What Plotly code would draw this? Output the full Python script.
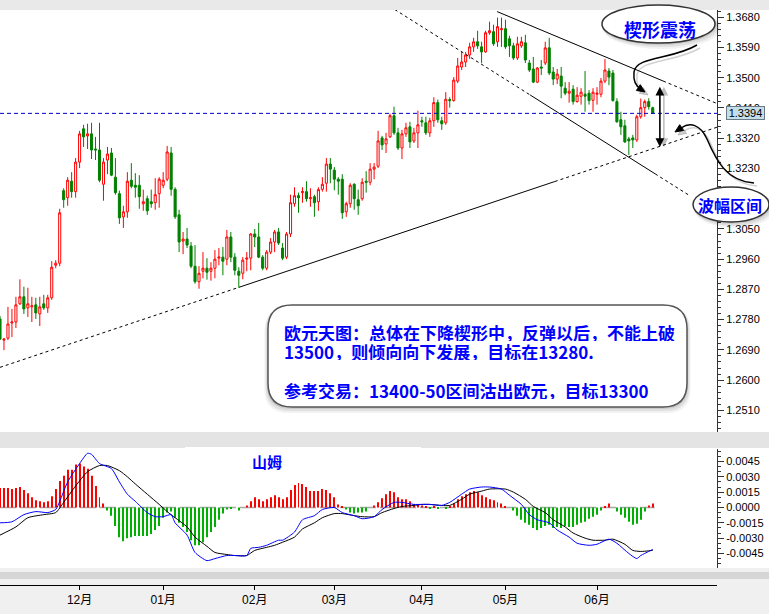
import plotly.graph_objects as go

# ---------------- daily EUR/USD candles ----------------
opens = [1.2782, 1.2719, 1.2725, 1.2770, 1.2773, 1.2827, 1.2848, 1.2815, 1.2818, 1.2824,
         1.2797, 1.2827, 1.2815, 1.2845, 1.2942, 1.2948, 1.3164, 1.3143, 1.3192, 1.3161,
         1.3249, 1.3348, 1.3327, 1.3333, 1.3288, 1.3285, 1.3183, 1.3255, 1.3276, 1.3204,
         1.3155, 1.3086, 1.3101, 1.3195, 1.3180, 1.3180, 1.3125, 1.3140, 1.3131, 1.3128,
         1.3155, 1.3180, 1.3198, 1.3276, 1.3168, 1.3092, 1.3014, 1.3020, 1.2999, 1.2939,
         1.2893, 1.2924, 1.2933, 1.2924, 1.2933, 1.2963, 1.2966, 1.2960, 1.3026, 1.2966,
         1.2924, 1.2918, 1.2960, 1.2963, 1.3035, 1.3026, 1.2966, 1.2933, 1.2981, 1.3011,
         1.3041, 1.2993, 1.2966, 1.3035, 1.3125, 1.3149, 1.3158, 1.3161, 1.3140, 1.3146,
         1.3131, 1.3168, 1.3186, 1.3243, 1.3225, 1.3198, 1.3198, 1.3101, 1.3125, 1.3183,
         1.3137, 1.3140, 1.3192, 1.3189, 1.3228, 1.3237, 1.3321, 1.3303, 1.3324, 1.3387,
         1.3336, 1.3291, 1.3333, 1.3354, 1.3312, 1.3336, 1.3372, 1.3366, 1.3336, 1.3372,
         1.3426, 1.3372, 1.3366, 1.3435, 1.3432, 1.3490, 1.3532, 1.3547, 1.3568, 1.3592,
         1.3607, 1.3592, 1.3577, 1.3634, 1.3637, 1.3607, 1.3643, 1.3646, 1.3616, 1.3595,
         1.3559, 1.3595, 1.3604, 1.3544, 1.3526, 1.3487, 1.3532, 1.3544, 1.3589, 1.3517,
         1.3496, 1.3505, 1.3469, 1.3454, 1.3466, 1.3429, 1.3445, 1.3451, 1.3454, 1.3433,
         1.3451, 1.3451, 1.3490, 1.3520, 1.3514, 1.3429, 1.3375, 1.3357, 1.3318, 1.3321,
         1.3315, 1.3384, 1.3411, 1.3429, 1.3411]

highs = [1.2791, 1.2725, 1.2818, 1.2812, 1.2848, 1.2900, 1.2878, 1.2875, 1.2848, 1.2845,
         1.2848, 1.2854, 1.2854, 1.2954, 1.2957, 1.3110, 1.3171, 1.3204, 1.3219, 1.3261,
         1.3342, 1.3360, 1.3363, 1.3366, 1.3324, 1.3366, 1.3261, 1.3294, 1.3291, 1.3261,
         1.3164, 1.3119, 1.3219, 1.3246, 1.3216, 1.3210, 1.3167, 1.3149, 1.3167, 1.3201,
         1.3204, 1.3219, 1.3297, 1.3294, 1.3174, 1.3107, 1.3041, 1.3053, 1.3011, 1.3002,
         1.2939, 1.2981, 1.2963, 1.2951, 1.2987, 1.2993, 1.2996, 1.3047, 1.3041, 1.2978,
         1.2936, 1.2966, 1.2981, 1.3038, 1.3050, 1.3068, 1.2972, 1.2987, 1.3023, 1.3047,
         1.3053, 1.3008, 1.3041, 1.3152, 1.3174, 1.3158, 1.3174, 1.3192, 1.3171, 1.3152,
         1.3174, 1.3204, 1.3261, 1.3261, 1.3234, 1.3204, 1.3213, 1.3131, 1.3186, 1.3186,
         1.3167, 1.3201, 1.3222, 1.3246, 1.3246, 1.3342, 1.3327, 1.3336, 1.3393, 1.3414,
         1.3351, 1.3345, 1.3366, 1.3369, 1.3351, 1.3402, 1.3384, 1.3384, 1.3381, 1.3442,
         1.3435, 1.3384, 1.3457, 1.3442, 1.3502, 1.3559, 1.3577, 1.3577, 1.3604, 1.3619,
         1.3640, 1.3607, 1.3640, 1.3667, 1.3658, 1.3679, 1.3679, 1.3673, 1.3625, 1.3604,
         1.3622, 1.3622, 1.3628, 1.3553, 1.3562, 1.3532, 1.3553, 1.3607, 1.3619, 1.3532,
         1.3526, 1.3532, 1.3487, 1.3487, 1.3478, 1.3472, 1.3469, 1.3520, 1.3463, 1.3469,
         1.3472, 1.3499, 1.3556, 1.3529, 1.3523, 1.3439, 1.3399, 1.3375, 1.3324, 1.3330,
         1.3390, 1.3438, 1.3435, 1.3439, 1.3414]

lows = [1.2719, 1.2689, 1.2719, 1.2728, 1.2755, 1.2824, 1.2797, 1.2788, 1.2773, 1.2782,
        1.2761, 1.2809, 1.2800, 1.2839, 1.2933, 1.2939, 1.3113, 1.3119, 1.3143, 1.3143,
        1.3231, 1.3294, 1.3288, 1.3258, 1.3255, 1.3189, 1.3134, 1.3213, 1.3207, 1.3152,
        1.3065, 1.3053, 1.3083, 1.3171, 1.3143, 1.3110, 1.3104, 1.3092, 1.3113, 1.3107,
        1.3113, 1.3171, 1.3192, 1.3149, 1.3080, 1.2981, 1.2975, 1.2993, 1.2933, 1.2887,
        1.2872, 1.2903, 1.2899, 1.2896, 1.2903, 1.2942, 1.2912, 1.2942, 1.2951, 1.2912,
        1.2875, 1.2900, 1.2924, 1.2927, 1.2996, 1.2963, 1.2927, 1.2927, 1.2975, 1.2981,
        1.3002, 1.2957, 1.2960, 1.3026, 1.3116, 1.3098, 1.3128, 1.3131, 1.3116, 1.3086,
        1.3104, 1.3161, 1.3161, 1.3186, 1.3165, 1.3152, 1.3080, 1.3086, 1.3113, 1.3107,
        1.3092, 1.3134, 1.3158, 1.3180, 1.3198, 1.3231, 1.3285, 1.3276, 1.3321, 1.3330,
        1.3285, 1.3258, 1.3324, 1.3291, 1.3306, 1.3291, 1.3354, 1.3330, 1.3324, 1.3354,
        1.3366, 1.3345, 1.3360, 1.3411, 1.3429, 1.3484, 1.3523, 1.3532, 1.3556, 1.3577,
        1.3586, 1.3544, 1.3574, 1.3628, 1.3595, 1.3592, 1.3592, 1.3586, 1.3562, 1.3553,
        1.3553, 1.3589, 1.3544, 1.3517, 1.3484, 1.3484, 1.3508, 1.3538, 1.3508, 1.3478,
        1.3481, 1.3439, 1.3448, 1.3426, 1.3420, 1.3426, 1.3420, 1.3399, 1.3420, 1.3399,
        1.3420, 1.3442, 1.3484, 1.3478, 1.3429, 1.3366, 1.3330, 1.3306, 1.3270, 1.3291,
        1.3309, 1.3378, 1.3384, 1.3405, 1.3392]

closes = [1.2722, 1.2722, 1.2767, 1.2773, 1.2824, 1.2848, 1.2812, 1.2827, 1.2821, 1.2800,
          1.2818, 1.2815, 1.2845, 1.2936, 1.2948, 1.3098, 1.3137, 1.3195, 1.3161, 1.3249,
          1.3333, 1.3324, 1.3333, 1.3285, 1.3285, 1.3195, 1.3249, 1.3273, 1.3210, 1.3158,
          1.3083, 1.3101, 1.3192, 1.3177, 1.3174, 1.3146, 1.3131, 1.3104, 1.3125, 1.3152,
          1.3198, 1.3195, 1.3279, 1.3168, 1.3086, 1.3011, 1.3020, 1.3002, 1.2939, 1.2893,
          1.2918, 1.2933, 1.2921, 1.2933, 1.2960, 1.2966, 1.2954, 1.3026, 1.2966, 1.2927,
          1.2912, 1.2957, 1.2963, 1.3035, 1.3026, 1.2966, 1.2933, 1.2981, 1.3011, 1.3041,
          1.3008, 1.2963, 1.3035, 1.3128, 1.3149, 1.3143, 1.3161, 1.3140, 1.3143, 1.3128,
          1.3167, 1.3183, 1.3243, 1.3228, 1.3198, 1.3192, 1.3098, 1.3125, 1.3180, 1.3140,
          1.3119, 1.3189, 1.3189, 1.3228, 1.3234, 1.3312, 1.3300, 1.3318, 1.3387, 1.3336,
          1.3291, 1.3333, 1.3351, 1.3309, 1.3336, 1.3360, 1.3369, 1.3336, 1.3372, 1.3426,
          1.3375, 1.3363, 1.3436, 1.3432, 1.3493, 1.3535, 1.3547, 1.3568, 1.3592, 1.3607,
          1.3595, 1.3577, 1.3634, 1.3640, 1.3601, 1.3652, 1.3646, 1.3592, 1.3595, 1.3559,
          1.3601, 1.3607, 1.3553, 1.3523, 1.3487, 1.3529, 1.3529, 1.3589, 1.3514, 1.3496,
          1.3511, 1.3475, 1.3454, 1.3460, 1.3429, 1.3448, 1.3457, 1.3445, 1.3432, 1.3457,
          1.3454, 1.3490, 1.3523, 1.3502, 1.3432, 1.3369, 1.3354, 1.3309, 1.3312, 1.3315,
          1.3384, 1.3411, 1.3429, 1.3414, 1.3394]

bar_no = list(range(len(closes)))
last_price = 1.3394

month_pos = [20, 41, 64, 84, 106, 127, 150]
month_lbl = ["12月", "01月", "02月", "03月", "04月", "05月", "06月"]

price_ticks = [1.2510, 1.2600, 1.2690, 1.2780, 1.2870, 1.2960, 1.3050,
               1.3140, 1.3230, 1.3320, 1.3410, 1.3500, 1.3590, 1.3680]
# 1.3140 sits under the "range" bubble, so its label is left blank
price_lbls = ["" if abs(v - 1.3140) < 1e-9 else f"{v:.4f}" for v in price_ticks]

# ---------------- MACD (values in units of 0.0001) ----------------
dif_bar = [0, 3, 6, 9, 12, 14, 15, 17, 20, 22, 23, 25, 28, 30, 32, 34, 37, 39, 41, 43,
           44, 47, 49, 52, 54, 57, 59, 62, 63, 65, 67, 70, 71, 74, 76, 79, 81, 84, 86, 89,
           91, 94, 96, 99, 101, 104, 106, 108, 111, 113, 116, 118, 121, 123, 126, 128, 131, 133, 135, 138,
           140, 143, 145, 148, 150, 153, 155, 158, 160, 161, 163, 164]
dif_e4 = [-15, -14, -7, -4, -5, -2, 6, 25, 43, 53, 52, 43, 38, 25, 13, 6, -5, -9, -9, -7,
          -15, -27, -44, -52, -50, -47, -47, -47, -40, -39, -37, -32, -32, -24, -12, -8, -2, 0, -5, -8,
          -11, -9, -2, 5, 5, 3, 3, 3, 2, 5, 13, 18, 20, 20, 18, 12, 3, -7, -12, -15,
          -22, -29, -35, -37, -36, -31, -35, -45, -50, -47, -43, -41]

dea_bar = [0, 4, 7, 11, 14, 16, 19, 22, 25, 27, 30, 32, 34, 37, 40, 42, 44, 47, 49, 52,
           54, 57, 59, 62, 64, 67, 69, 71, 74, 76, 79, 81, 84, 86, 89, 91, 94, 96, 99, 101,
           104, 106, 108, 111, 113, 116, 118, 121, 123, 127, 129, 132, 134, 137, 139, 142, 144, 147, 149, 152,
           154, 157, 159, 161, 164]
dea_e4 = [-27, -19, -10, -7, -5, 5, 21, 35, 41, 41, 36, 30, 23, 13, 3, -4, -10, -19, -29, -38,
          -44, -46, -47, -47, -42, -39, -37, -34, -29, -21, -15, -10, -6, -6, -8, -9, -9, -5, -1, 1,
          2, 3, 3, 2, 2, 8, 13, 16, 18, 18, 15, 8, 1, -5, -12, -19, -25, -30, -32, -32,
          -31, -36, -42, -43, -42]

hist_e4 = [19, 19, 19, 18, 19, 20, 17, 14, 10, 7,
           6, 5, 6, 11, 18, 26, 31, 37, 37, 42,
           43, 40, 38, 31, 21, 10, 4, -3, -8, -18,
           -29, -33, -30, -29, -28, -28, -28, -28, -26, -22,
           -18, -10, -5, -4, -10, -15, -19, -24, -32, -37,
           -37, -34, -29, -24, -19, -12, -6, -2, -1, 0,
           -3, 0, 2, 6, 10, 8, 6, 8, 10, 12,
           10, 8, 10, 17, 22, 24, 23, 20, 16, 16,
           16, 18, 17, 14, 10, 3, 1, -2, -5, -6,
           -5, -5, -4, 0, 2, 5, 9, 13, 16, 15,
           10, 8, 8, 6, 3, 3, 2, 1, -1, 1,
           -1, 0, -1, 1, 4, 8, 11, 13, 15, 16,
           15, 12, 10, 8, 7, 5, 4, 1, 0, -3,
           -8, -12, -15, -17, -20, -22, -20, -18, -17, -20,
           -19, -20, -18, -19, -19, -17, -15, -14, -11, -9,
           -7, -3, 1, 4, 0, -4, -7, -10, -14, -17,
           -16, -12, -4, 2, 4]

macd_ticks = [-0.0045, -0.0030, -0.0015, 0.0, 0.0015, 0.0030, 0.0045]
macd_lbls = ["-0.0045", "-0.0030", "-0.0015", "0.0000", "0.0015", "0.0030", "0.0045"]

# trend lines: (bar, price) anchors and the bar ranges drawn solid
support_line = [(0, 1.2638), (180.2, 1.3353)]
support_solid = (60.3, 139.4)
wedge_low = [(99.2, 1.3703), (172.9, 1.3152)]
wedge_low_solid = (133.2, 164.6)
wedge_high = [(124.9, 1.3697), (180.2, 1.3423)]
wedge_high_solid = (124.9, 166.6)
range_arrow = (165.8, 1.3478, 1.3294)   # bar, top, bottom

# ---------------- geometry helpers ----------------
W, H = 769, 614
PR = 717            # right edge of the plotting area
X_MAX = PR / 3.98   # visible bars


def px(x):
    return x / PR


def py(y):
    return (H - y) / H


def pt(x, y):
    return f"{px(x):.5f},{py(y):.5f}"


def seg_price(line, b):
    (b0, p0), (b1, p1) = line
    return p0 + (p1 - p0) * (b - b0) / (b1 - b0)


CJK = "Noto Sans CJK SC"
NUM = "Liberation Sans, Arial, sans-serif"
BLUE = "#0000ff"

fig = go.Figure()

fig.add_trace(go.Candlestick(
    x=bar_no, open=opens, high=highs, low=lows, close=closes,
    increasing=dict(line=dict(color="#ff0000", width=1), fillcolor="#ffffff"),
    decreasing=dict(line=dict(color="#008000", width=1), fillcolor="#008000"),
    whiskerwidth=0, xaxis="x", yaxis="y", hoverinfo="skip", showlegend=False))

hist = [v / 10000 for v in hist_e4]
fig.add_trace(go.Bar(
    x=bar_no, y=hist, width=0.25,
    marker=dict(color=["#ff0000" if v >= 0 else "#00b000" for v in hist], line=dict(width=0)),
    xaxis="x2", yaxis="y2", hoverinfo="skip", showlegend=False))

fig.add_trace(go.Scatter(
    x=dea_bar, y=[v / 10000 for v in dea_e4], mode="lines",
    line=dict(color="#000000", width=1, shape="spline", smoothing=0.6),
    xaxis="x2", yaxis="y2", hoverinfo="skip", showlegend=False))
fig.add_trace(go.Scatter(
    x=dif_bar, y=[v / 10000 for v in dif_e4], mode="lines",
    line=dict(color="#0000ff", width=1, shape="spline", smoothing=0.6),
    xaxis="x2", yaxis="y2", hoverinfo="skip", showlegend=False))

# invisible anchor so the date axis strip is drawn
fig.add_trace(go.Scatter(x=[0], y=[0], mode="markers", marker=dict(opacity=0),
                         xaxis="x3", yaxis="y3", hoverinfo="skip", showlegend=False))

shapes = []

# background bands between panels
for y0, y1, col in [(0, 10, "#e9e9e9"), (432, 448, "#e4e4e4"), (568, 614, "#f0f0f0"),
                    (572, 579, "#d6d6d6")]:
    shapes.append(dict(type="rect", xref="paper", yref="paper", x0=0, x1=W / PR,
                       y0=py(y1), y1=py(y0), fillcolor=col, line=dict(width=0), layer="below"))

# trend lines
for line, solid in [(support_line, support_solid), (wedge_low, wedge_low_solid),
                    (wedge_high, wedge_high_solid)]:
    b_start, b_end = line[0][0], line[1][0]
    pieces = [(b_start, solid[0], "3px,3px"), (solid[0], solid[1], "solid"),
              (solid[1], b_end, "3px,3px")]
    for a, b, dash in pieces:
        if b - a <= 0:
            continue
        shapes.append(dict(type="line", xref="x", yref="y", x0=a, x1=b,
                           y0=seg_price(line, a), y1=seg_price(line, b),
                           line=dict(color="#000000", width=1, dash=dash)))

# current price line
shapes.append(dict(type="line", xref="x domain", yref="y", x0=0, x1=1,
                   y0=last_price, y1=last_price,
                   line=dict(color="#0000cc", width=1, dash="4px,3px")))

# MACD zero line (only under the bars)
shapes.append(dict(type="line", xref="x2", yref="y2", x0=0, x1=bar_no[-1] + 0.5, y0=0, y1=0,
                   line=dict(color="#a8a8a8", width=1.5, dash="16px,4px"), layer="below"))

# white label patch at the top of the MACD pane
shapes.append(dict(type="rect", xref="paper", yref="paper", x0=px(185), x1=px(421),
                   y0=py(472), y1=py(447), fillcolor="#ffffff", line=dict(width=0)))


def rounded(x0, y0, x1, y1, r):
    return ("M " + pt(x0 + r, y0) + " L " + pt(x1 - r, y0) +
            " Q " + pt(x1, y0) + " " + pt(x1, y0 + r) +
            " L " + pt(x1, y1 - r) + " Q " + pt(x1, y1) + " " + pt(x1 - r, y1) +
            " L " + pt(x0 + r, y1) + " Q " + pt(x0, y1) + " " + pt(x0, y1 - r) +
            " L " + pt(x0, y0 + r) + " Q " + pt(x0, y0) + " " + pt(x0 + r, y0) + " Z")


def soft_shadow(kind, x0, y0, x1, y1, r=0):
    out = []
    for k, a in [(6, 0.05), (4, 0.07), (2, 0.09)]:
        if kind == "circle":
            out.append(dict(type="circle", xref="paper", yref="paper",
                            x0=px(x0 - 1 + k * 0.3), x1=px(x1 + k), y0=py(y1 + k), y1=py(y0 + k * 0.3),
                            fillcolor=f"rgba(0,0,0,{a})", line=dict(width=0)))
        else:
            out.append(dict(type="path", xref="paper", yref="paper",
                            path=rounded(x0 - k * 0.6, y0 + k * 0.4, x1 + k * 0.6, y1 + k, r),
                            fillcolor=f"rgba(0,0,0,{a})", line=dict(width=0)))
    return out


def head(tip, frm, length=8, half=3.5):
    dx, dy = tip[0] - frm[0], tip[1] - frm[1]
    n = (dx * dx + dy * dy) ** 0.5
    ux, uy = dx / n, dy / n
    bx, by = tip[0] - ux * length, tip[1] - uy * length
    return ("M " + pt(*tip) + " L " + pt(bx - uy * half, by + ux * half) +
            " L " + pt(bx + uy * half, by - ux * half) + " Z")


# commentary box
shapes += soft_shadow("rect", 268, 305, 687, 407, 24)
shapes.append(dict(type="path", xref="paper", yref="paper", path=rounded(268, 305, 687, 407, 24),
                   fillcolor="#ffffff", line=dict(color="#555555", width=1.5)))

# "wedge" bubble and its tail
for off, col in [(3, "rgba(0,0,0,0.18)"), (0, "#000000")]:
    shapes.append(dict(type="path", xref="paper", yref="paper",
                       path="M " + pt(697 + off, 45 + off) + " C " + pt(672 + off, 60 + off) + " " +
                            pt(636 + off, 56 + off) + " " + pt(634 + off, 72 + off) + " C " +
                            pt(633 + off, 82 + off) + " " + pt(637 + off, 87 + off) + " " + pt(641 + off, 89 + off),
                       line=dict(color=col, width=1.5)))
    shapes.append(dict(type="path", xref="paper", yref="paper",
                       path=head((645 + off, 92 + off), (636 + off, 86 + off), 8, 3.5),
                       fillcolor=col, line=dict(color=col, width=1)))
shapes += soft_shadow("circle", 602, 5, 715, 43)
shapes.append(dict(type="circle", xref="paper", yref="paper", x0=px(602), x1=px(715),
                   y0=py(43), y1=py(5), fillcolor="#ffffff", line=dict(color="#333333", width=1.5)))

# "range" bubble and its tail
for off, col in [(3, "rgba(0,0,0,0.18)"), (0, "#000000")]:
    shapes.append(dict(type="path", xref="paper", yref="paper",
                       path="M " + pt(754 + off, 183 + off) + " C " + pt(726 + off, 181 + off) + " " +
                            pt(716 + off, 160 + off) + " " + pt(707 + off, 139 + off) + " C " +
                            pt(700 + off, 124 + off) + " " + pt(690 + off, 122 + off) + " " + pt(681 + off, 128 + off),
                       line=dict(color=col, width=1.5)))
    shapes.append(dict(type="path", xref="paper", yref="paper",
                       path=head((675 + off, 132 + off), (684 + off, 126 + off), 8, 3.5),
                       fillcolor=col, line=dict(color=col, width=1)))
shapes += soft_shadow("circle", 693, 187, 769, 222)
shapes.append(dict(type="circle", xref="paper", yref="paper", x0=px(693), x1=px(769),
                   y0=py(222), y1=py(187), fillcolor="#ffffff", line=dict(color="#333333", width=1.5)))

annotations = []

# double-headed range arrow (with a soft shadow)
ab, atop, abot = range_arrow
for dx, col in [(1.0, "rgba(0,0,0,0.25)"), (0.0, "#000000")]:
    annotations.append(dict(xref="x", yref="y", axref="x", ayref="y",
                            x=ab + dx, y=abot, ax=ab + dx, ay=atop, text="",
                            showarrow=True, arrowhead=2, arrowside="end+start",
                            arrowsize=1.1, arrowwidth=1.6, arrowcolor=col))

# last price tag on the axis
annotations.append(dict(xref="paper", yref="y", x=px(745.5), y=last_price, text="1.3394",
                        showarrow=False, font=dict(family=NUM, size=11, color="#000000"),
                        bgcolor="#c5dfea", bordercolor="#6a7a84", borderwidth=1, borderpad=0,
                        width=37, height=12, xanchor="center", yanchor="middle"))


def label(x, y, text, size, **kw):
    d = dict(xref="paper", yref="paper", x=px(x), y=py(y), text=text, showarrow=False,
             xanchor="center", yanchor="middle", font=dict(family=CJK, size=size, color=BLUE))
    d.update(kw)
    return d


annotations.append(label(660, 29, "<b>楔形震荡</b>", 18))
annotations.append(label(730, 205, "<b>波幅区间</b>", 16))

box_lines = [(332, "欧元天图：总体在下降楔形中，反弹以后，不能上破"),
             (351, "13500，则倾向向下发展，目标在13280."),
             (390, "参考交易：13400-50区间沽出欧元，目标13300")]
for yy, txt in box_lines:
    annotations.append(label(282, yy, "<b>" + txt + "</b>", 17, xanchor="left", height=18))

annotations.append(label(267, 461, "<b>山姆</b>", 15))

axis_common = dict(showgrid=False, zeroline=False)

fig.update_layout(
    width=W, height=H, margin=dict(l=0, r=W - PR, t=0, b=0),
    paper_bgcolor="#ffffff", plot_bgcolor="#ffffff",
    showlegend=False, hovermode=False, boxgap=0.25,
    shapes=shapes, annotations=annotations,
    xaxis=dict(domain=[0, 1], range=[0, X_MAX], anchor="y", showticklabels=False,
               ticks="", showline=False, rangeslider=dict(visible=False), **axis_common),
    yaxis=dict(domain=[py(432), py(10)], range=[1.24455, 1.37017], anchor="x", side="right",
               tickvals=price_ticks, ticktext=price_lbls,
               ticks="outside", ticklen=6, tickcolor="#333333", showline=True,
               linecolor="#333333", linewidth=1,
               minor=dict(dtick=0.0018, tick0=1.2510, ticks="outside", ticklen=3, tickcolor="#333333"),
               tickfont=dict(family=NUM, size=11, color="#000000"), **axis_common),
    xaxis2=dict(domain=[0, 1], range=[0, X_MAX], anchor="y2", showticklabels=False,
                ticks="", showline=False, matches="x", **axis_common),
    yaxis2=dict(domain=[py(568), py(449)], range=[-0.00592, 0.00572], anchor="x2", side="right",
                tickvals=macd_ticks, ticktext=macd_lbls,
                ticks="outside", ticklen=6, tickcolor="#333333", showline=True,
                linecolor="#333333", linewidth=1,
                minor=dict(dtick=0.0005, tick0=0, ticks="outside", ticklen=3, tickcolor="#333333"),
                tickfont=dict(family=NUM, size=11, color="#000000"), **axis_common),
    xaxis3=dict(domain=[0, 1], range=[0, X_MAX], anchor="y3", side="bottom",
                tickvals=month_pos, ticktext=month_lbl, ticks="outside", ticklen=4,
                tickcolor="#000000", showline=True, linecolor="#000000", linewidth=1,
                tickfont=dict(family="Liberation Sans, " + CJK, size=12, color="#000000"),
                **axis_common),
    yaxis3=dict(domain=[py(585), py(584)], range=[-1, 1], anchor="x3", visible=False),
)

fig.write_html("out.html")
